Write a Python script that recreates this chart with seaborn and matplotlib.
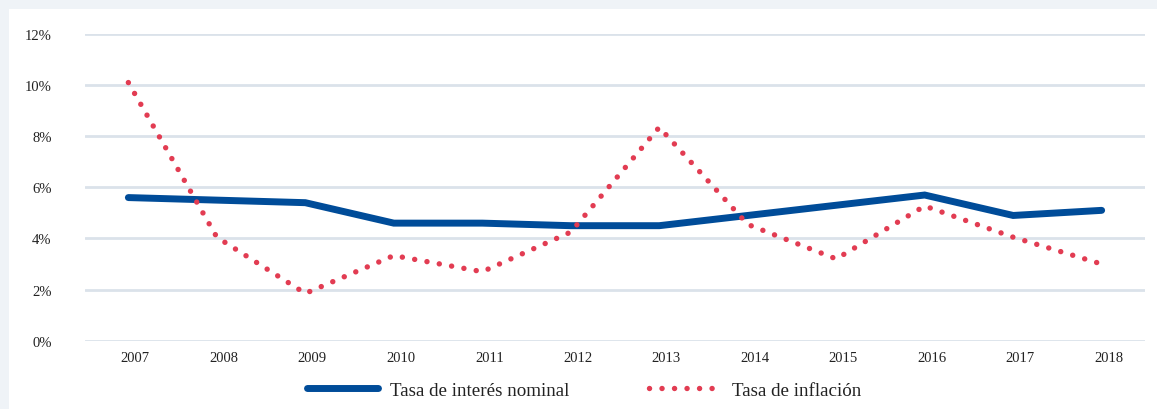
import matplotlib
matplotlib.use('Agg')
import matplotlib.pyplot as plt
import matplotlib.transforms as mtransforms
import seaborn as sns
import pandas as pd

# Data (%)
years = ['2007', '2008', '2009', '2010', '2011', '2012', '2013', '2014', '2015', '2016', '2017', '2018']
tasa_interes = [5.6, 5.5, 5.4, 4.6, 4.6, 4.5, 4.5, 4.9, 5.3, 5.7, 4.9, 5.1]
tasa_inflacion = [10.1, 4.05, 1.85, 3.33, 2.7, 4.25, 8.35, 4.55, 3.2, 5.27, 4.05, 3.0]
y_ticks = [0, 2, 4, 6, 8, 10, 12]

df = pd.DataFrame({'year': years, 'interes': tasa_interes, 'inflacion': tasa_inflacion})

sns.set_theme(style='white')
plt.rcParams['font.family'] = ['Liberation Serif', 'DejaVu Serif']

blue = '#004c99'
red = '#e23c52'
grid_color = '#dbe2ea'
text_color = '#222222'

fig = plt.figure(figsize=(11.57, 4.10), dpi=100)
fig.patch.set_facecolor('#eff3f7')
# white panel behind everything
fig.patches.append(plt.Rectangle((9 / 1157, 0), 1, 400 / 410, transform=fig.transFigure,
                                 facecolor='white', edgecolor='none', zorder=-10))

ax = fig.add_axes([85 / 1157, (410 - 341.7) / 410, (1145 - 85) / 1157, (341.7 - 35) / 410])
ax.set_facecolor('none')
ax.set_zorder(1)

sns.lineplot(data=df, x='year', y='interes', ax=ax, color=blue, linewidth=4.6,
             solid_capstyle='round', solid_joinstyle='miter', label='Tasa de interés nominal', zorder=3)
sns.lineplot(data=df, x='year', y='inflacion', ax=ax, color=red, linewidth=3.9,
             linestyle=(0, (0.01, 2.3)), dash_capstyle='round', label='Tasa de inflación', zorder=4)

ax.set_xlim(-0.49, len(years) - 0.51)
ax.set_ylim(0, 12)
ax.set_yticks(y_ticks)
ax.set_yticklabels([f'{t}%' for t in y_ticks])
for t in y_ticks:
    ax.axhline(t, color=grid_color, linewidth=2, zorder=1)

for side in ['top', 'right', 'left', 'bottom']:
    ax.spines[side].set_visible(False)
ax.tick_params(axis='both', length=0, labelsize=10.5, colors=text_color)
ax.tick_params(axis='y', pad=24)
ax.tick_params(axis='x', pad=7.5)
ax.set_xlabel('')
ax.set_ylabel('')

# x tick labels sit slightly right of the points
offset = mtransforms.ScaledTranslation(7 / 100, 0, fig.dpi_scale_trans)
for lbl in ax.get_xticklabels():
    lbl.set_transform(lbl.get_transform() + offset)

ax.get_legend().remove()
handles, labels = ax.get_legend_handles_labels()
handles[0].set_linewidth(5)
leg = fig.legend(handles, labels, loc='center', bbox_to_anchor=(0.505, 19 / 410), ncol=2,
                 frameon=False, fontsize=13.7, handlelength=3.7, handletextpad=0.65,
                 columnspacing=4.2, labelcolor=text_color)

plt.savefig('out.png', dpi=100, facecolor=fig.get_facecolor())
